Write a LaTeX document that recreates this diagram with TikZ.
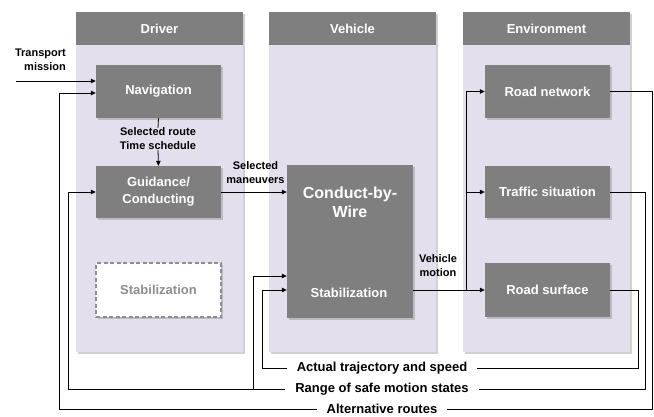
\documentclass[tikz,border=0pt]{standalone}
\usepackage{fontspec}
\setmainfont{Liberation Sans}
\usetikzlibrary{shadows,arrows.meta}
\definecolor{lane}{HTML}{E4DFEC}
\definecolor{boxgray}{HTML}{7F7F7F}
\definecolor{dashgray}{HTML}{8E8E8E}

\begin{document}
\begin{tikzpicture}[x=1pt,y=-1pt,
  softshadow/.style={drop shadow={shadow xshift=2pt,shadow yshift=-2pt,opacity=0.3,fill=black!60}},
  lanebody/.style={fill=lane,softshadow},
  lanehead/.style={fill=boxgray},
  headtext/.style={text=white,font=\fontsize{13}{15}\selectfont\bfseries},
  block/.style={fill=boxgray,text=white,minimum width=125pt,minimum height=53pt,
    inner sep=0pt,align=center,font=\fontsize{13}{17}\selectfont\bfseries,softshadow},
  ghost/.style={fill=white,draw=dashgray,line width=1.2pt,dash pattern=on 4pt off 2.5pt,
    text=dashgray,minimum width=125pt,minimum height=54pt,inner sep=0pt,
    font=\fontsize{13}{15}\selectfont\bfseries,softshadow},
  wire/.style={line width=0.8pt},
  flow/.style={line width=0.8pt,-{Triangle[length=5pt,width=4.5pt]}},
  tag/.style={font=\fontsize{11}{14}\selectfont\bfseries,align=center,inner sep=0pt},
  feedback/.style={font=\fontsize{13}{15}\selectfont\bfseries,inner xsep=10pt,inner ysep=0pt}
]
\useasboundingbox (0,0) rectangle (654,416);

% swim lanes
\path[lanebody] (76,12) rectangle (243,352);
\path[lanebody] (269,12) rectangle (436,352);
\path[lanebody] (463,12) rectangle (630,352);
\fill[lanehead] (76,12) rectangle (243,45);
\fill[lanehead] (269,12) rectangle (436,45);
\fill[lanehead] (463,12) rectangle (630,45);
\node[headtext] (hDriver) at (159.5,28.5) {Driver};
\node[headtext] (hVehicle) at (352.5,28.5) {Vehicle};
\node[headtext] (hEnv) at (546.5,28.5) {Environment};

% blocks
\node[block] (nav) at (158.5,91.5) {Navigation};
\node[block,minimum height=52pt] (guid) at (158.5,192) {Guidance/\\Conducting};
\node[ghost] (stabD) at (158.5,290) {Stabilization};
\node[block,minimum width=126pt,minimum height=153pt] (cbw) at (350,241.5) {};
\node[text=white,align=center,font=\fontsize{16}{19}\selectfont\bfseries] (cbwT) at (350,202) {Conduct-by-\\Wire};
\node[text=white,font=\fontsize{13}{15}\selectfont\bfseries] (cbwS) at (349,293) {Stabilization};
\node[block] (rn) at (547.5,91.5) {Road network};
\node[block,minimum height=52pt] (ts) at (547.5,192) {Traffic situation};
\node[block,minimum height=54pt] (rs) at (547.5,290) {Road surface};

% labels
\node[tag,align=right,anchor=east] (tm) at (66,60) {Transport\\mission};
\node[tag] (route) at (158,139) {Selected route\\Time schedule};
\node[tag] (man) at (255.5,173) {Selected\\maneuvers};
\node[tag] (vm) at (438,265.5) {Vehicle\\motion};
\node[feedback] (act) at (382,368) {Actual trajectory and speed};
\node[feedback] (rng) at (382,389) {Range of safe motion states};
\node[feedback] (alt) at (382,409) {Alternative routes};

% bend points
\coordinate (tmStart) at (16,81);
\coordinate (altR) at (652,409);
\coordinate (altL) at (59,409);
\coordinate (rngR) at (645,389);
\coordinate (rngL) at (68,389);
\coordinate (rngB) at (253,389);
\coordinate (actR) at (638,368);
\coordinate (actL) at (262,368);
\coordinate (vmB) at (466,290);

% forward path
\draw[flow] (tmStart) -- (tmStart -| nav.west);
\draw[wire] (nav.south) -- (route.north);
\draw[flow] (route.south) -- (guid.north);
\draw[flow] (guid.east) -- (guid.east -| cbw.west);
\draw[flow] ([yshift=-48.5pt]cbw.east) -- (rs.west);
\draw[flow] (vmB) |- (rn.west);
\draw[flow] (vmB |- ts.west) -- (ts.west);

% feedback paths
\draw[wire] (rs.east) -| (actR) -- (act.east);
\draw[flow] (act.west) -- (actL) |- ([yshift=-48.5pt]cbw.west);
\draw[wire] (ts.east) -| (rngR) -- (rng.east);
\draw[flow] (rng.west) -- (rngL) |- (guid.west);
\draw[flow] (rngB) |- ([yshift=-34.5pt]cbw.west);
\draw[wire] (rn.east) -| (altR) -- (alt.east);
\draw[flow] (alt.west) -- (altL) |- ([yshift=-1.5pt]nav.west);
\end{tikzpicture}
\end{document}
